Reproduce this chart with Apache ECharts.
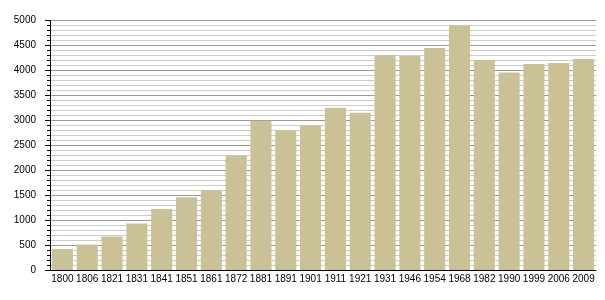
<!DOCTYPE html>
<html>
<head>
<meta charset="utf-8">
<script src="https://cdn.jsdelivr.net/npm/echarts@6/dist/echarts.min.js"></script>
<style>
html,body{margin:0;padding:0;background:#fff;}
#chart{width:605px;height:300px;}
</style>
</head>
<body>
<div id="chart"></div>
<script>
const years = ["1800","1806","1821","1831","1841","1851","1861","1872","1881","1891","1901","1911","1921","1931","1946","1954","1968","1982","1990","1999","2006","2009"];
const population = [420,510,670,930,1220,1460,1600,2290,2990,2800,2900,3250,3150,4310,4290,4450,4900,4210,3960,4130,4150,4230];
const yTicks = [0,500,1000,1500,2000,2500,3000,3500,4000,4500,5000];

const chart = echarts.init(document.getElementById('chart'), null, {renderer:'canvas'});
chart.setOption({
  animation:false,
  backgroundColor:'#ffffff',
  grid:{left:50,right:9,top:20.5,bottom:30,containLabel:false},
  xAxis:{
    type:'category',
    data:years,
    axisLine:{lineStyle:{color:'#000',width:1}},
    axisTick:{show:false},
    axisLabel:{color:'#000',fontSize:10,fontFamily:'Liberation Sans, Arial, sans-serif',margin:4,interval:0}
  },
  yAxis:{
    type:'value',
    min:yTicks[0],
    max:yTicks[yTicks.length-1],
    interval:500,
    axisLine:{show:true,lineStyle:{color:'#000',width:1}},
    axisTick:{show:true,length:5,lineStyle:{color:'#000'}},
    minorTick:{show:true,splitNumber:5,length:3,lineStyle:{color:'#000'}},
    axisLabel:{color:'#000',fontSize:10,fontFamily:'Liberation Sans, Arial, sans-serif',margin:14,formatter:function(v){return String(v);}},
    splitLine:{show:true,lineStyle:{color:'#999',width:1}},
    minorSplitLine:{show:true,lineStyle:{color:'#cccccc',width:1}}
  },
  series:[{
    type:'bar',
    data:population,
    barCategoryGap:'15%',
    itemStyle:{color:'#cbc196'}
  }]
});
</script>
</body>
</html>
